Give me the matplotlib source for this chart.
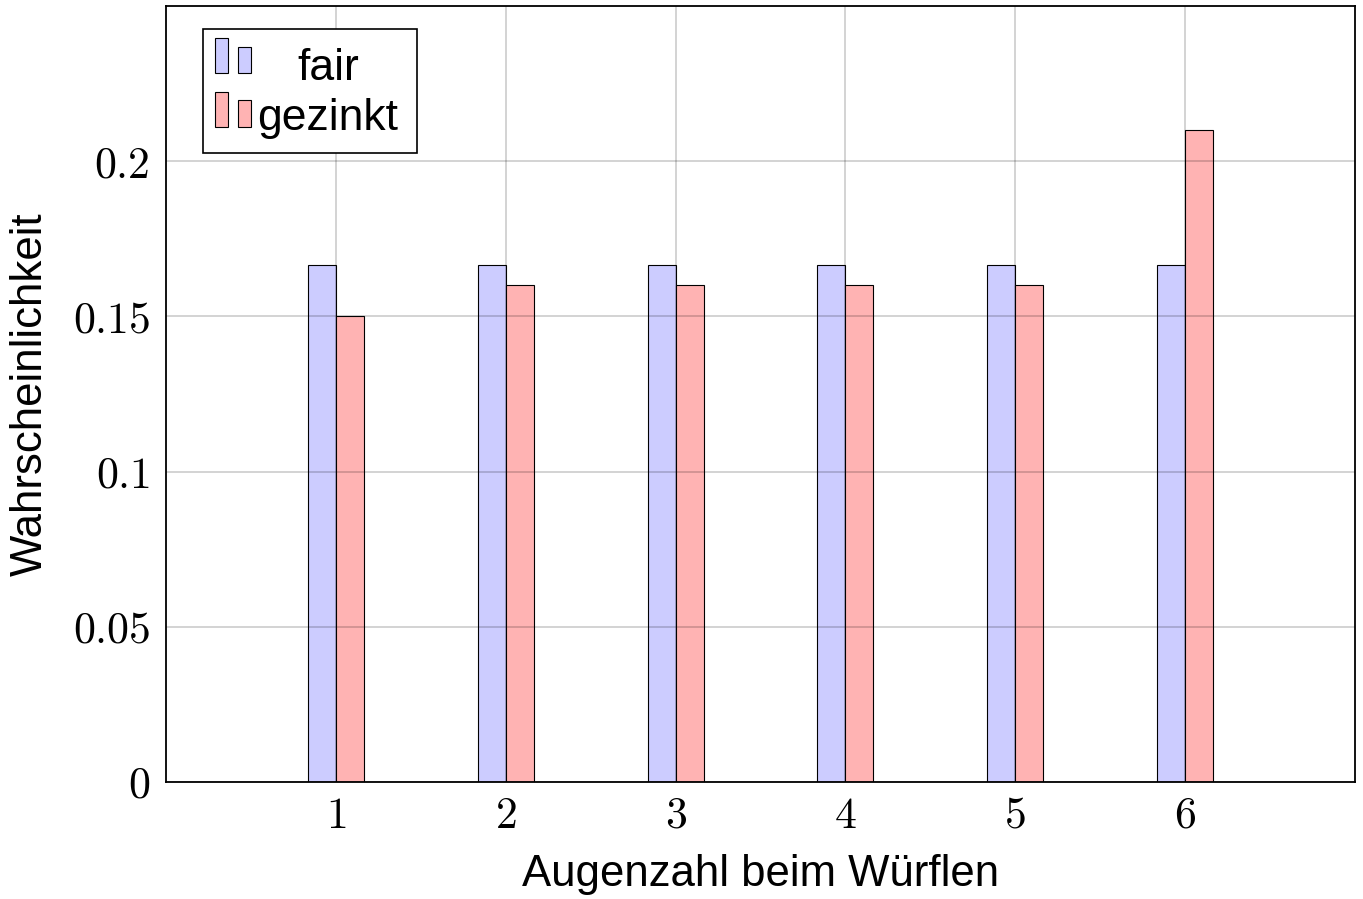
import matplotlib
matplotlib.use("Agg")
import matplotlib.pyplot as plt
from matplotlib.patches import Rectangle
import numpy as np

plt.rcParams['font.family'] = ['Liberation Sans', 'DejaVu Sans']
plt.rcParams['mathtext.fontset'] = 'cm'

faces = [1, 2, 3, 4, 5, 6]
fair = [1/6, 1/6, 1/6, 1/6, 1/6, 1/6]
gezinkt = [0.15, 0.16, 0.16, 0.16, 0.16, 0.21]
series_names = ["fair", "gezinkt"]
yticks = [0, 0.05, 0.1, 0.15, 0.2]
ytick_labels = ["0", "0.05", "0.1", "0.15", "0.2"]

c_fair = "#ccccff"
c_gez = "#ffb3b3"

fig = plt.figure(figsize=(13.63, 8.99), dpi=100)
ax = fig.add_axes([166/1363, 1-782/899, 1189/1363, 776/899])

x = np.array(faces, dtype=float)
w = 0.165
ax.bar(x - w/2, fair, width=w, color=c_fair, edgecolor="black", linewidth=0.8, zorder=2)
ax.bar(x + w/2, gezinkt, width=w, color=c_gez, edgecolor="black", linewidth=0.8, zorder=2)

ax.set_xlim(0, 7)
ax.set_ylim(0, 0.25)
ax.set_xticks(faces)
ax.set_xticklabels([f"${f}$" for f in faces])
ax.set_yticks(yticks)
ax.set_yticklabels([f"${t}$" for t in ytick_labels])
ax.grid(True, color="black", alpha=0.22, linewidth=1.1, zorder=3)
ax.set_axisbelow(False)
for s in ax.spines.values():
    s.set_linewidth(1.3)
    s.set_zorder(5)
ax.tick_params(axis='both', direction='in', length=0, labelsize=31.5)
ax.tick_params(axis='y', pad=11.5)
ax.tick_params(axis='x', pad=10)

ax.set_xlabel("Augenzahl beim Würflen", fontsize=31.5, labelpad=12.5)
ax.set_ylabel("Wahrscheinlichkeit", fontsize=31.5, labelpad=15.5)

# legend drawn manually (pgfplots style)
tr = ax.transAxes
ax.add_patch(Rectangle((0.0311, 0.8106), 0.2111-0.0311, 0.9704-0.8106, transform=tr,
                       facecolor="white", edgecolor="black", linewidth=1.2, zorder=10))
legend_rows = [
    (c_fair, 0.9137, 0.9588, 0.9472, 0.9046),
    (c_gez, 0.8441, 0.8892, 0.8789, 0.8402),
]
for (col, yb, yt1, yt2, ybase), name in zip(legend_rows, series_names):
    ax.add_patch(Rectangle((0.0412, yb), 0.0109, yt1-yb, transform=tr, facecolor=col,
                           edgecolor="black", linewidth=0.8, zorder=11))
    ax.add_patch(Rectangle((0.0606, yb), 0.0109, yt2-yb, transform=tr, facecolor=col,
                           edgecolor="black", linewidth=0.8, zorder=11))
    ax.text(0.1362, ybase, name, transform=tr, ha="center", va="baseline",
            fontsize=32, zorder=12)

fig.savefig("out.png", dpi=100)
